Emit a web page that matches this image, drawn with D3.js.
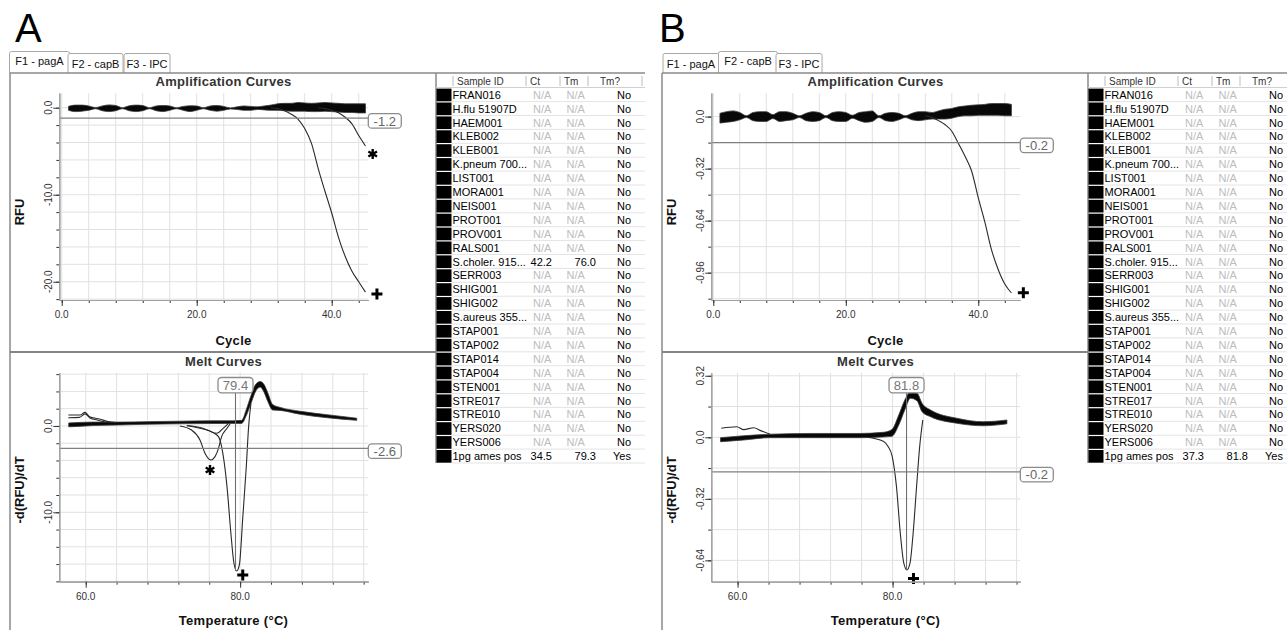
<!DOCTYPE html>
<html>
<head>
<meta charset="utf-8">
<script src="https://cdn.jsdelivr.net/npm/d3@7"></script>
<style>
body{margin:0;background:#fff;}
svg{display:block;font-family:"Liberation Sans",Arial,sans-serif;}
</style>
</head>
<body>
<svg id="fig" width="1287" height="630"></svg>
<script>
// ---- data ----
var panelLetters = ["A", "B"];
var tabNames = ["F1 - pagA", "F2 - capB", "F3 - IPC"];
var activeTab = [0, 1];

var cycles = [1,2,3,4,5,6,7,8,9,10,11,12,13,14,15,16,17,18,19,20,21,22,23,24,25,26,27,28,29,30,31,32,33,34,35,36,37,38,39,40,41,42,43,44,45];

// band of the negative samples (upper / lower edge of the bundle)
var ampBandUpperA = [0.15,0.3,0.3,0.2,0.02,0.2,0.32,0.25,0.0,0.22,
                     0.3,0.25,0.0,0.2,0.25,0.2,0.0,0.15,0.22,0.2,
                     0.0,0.2,0.25,0.15,-0.02,0.1,0.2,0.15,0.1,0.2,
                     0.3,0.45,0.5,0.5,0.6,0.55,0.5,0.55,0.6,0.55,
                     0.5,0.45,0.45,0.45,0.45];
var ampBandLowerA = [-0.3,-0.45,-0.4,-0.3,-0.12,-0.35,-0.45,-0.35,-0.12,-0.35,
                     -0.45,-0.35,-0.12,-0.35,-0.45,-0.3,-0.12,-0.3,-0.45,-0.3,
                     -0.12,-0.3,-0.4,-0.3,-0.14,-0.2,-0.3,-0.3,-0.2,-0.25,
                     -0.3,-0.3,-0.35,-0.4,-0.4,-0.4,-0.45,-0.45,-0.4,-0.45,
                     -0.5,-0.55,-0.55,-0.6,-0.6];
var ampBandUpperB = [0.02,0.03,0.035,0.025,0.005,0.025,0.03,0.03,0.012,0.03,
                     0.03,0.02,0.005,0.02,0.03,0.025,0.005,0.025,0.03,0.025,
                     0.008,0.025,0.03,0.035,0.005,0.02,0.025,0.02,0.005,0.02,
                     0.03,0.03,0.025,0.035,0.045,0.05,0.06,0.065,0.07,0.072,
                     0.075,0.08,0.08,0.08,0.075];
var ampBandLowerB = [-0.04,-0.035,-0.03,-0.02,-0.006,-0.025,-0.03,-0.03,-0.012,-0.03,
                     -0.025,-0.02,-0.006,-0.025,-0.03,-0.025,-0.006,-0.025,-0.03,-0.03,
                     -0.01,-0.025,-0.035,-0.03,-0.006,-0.025,-0.03,-0.02,-0.006,-0.02,
                     -0.025,-0.02,-0.015,-0.015,-0.015,-0.01,0.0,0.005,0.005,0.008,
                     0.008,0.008,0.008,0.005,0.005];

// amplifying samples
var ampPosCyclesA = [31,32,33,34,35,36,37,38,39,40,41,42,43,44,45];
var ampPosValuesA = [0.0,-0.1,-0.35,-0.75,-1.3,-2.4,-4.1,-7.0,-9.6,-12.1,-14.9,-17.1,-18.8,-20.0,-21.2];
var ampStarCyclesA = [38,39,40,41,42,43,44,45];
var ampStarValuesA = [0.0,-0.1,-0.3,-0.58,-1.1,-1.85,-3.2,-4.4];
var ampPosCyclesB = [32,33,34,35,36,37,38,39,40,41,42,43,44,45];
var ampPosValuesB = [0.005,-0.005,-0.025,-0.05,-0.09,-0.165,-0.244,-0.336,-0.5,-0.65,-0.82,-0.94,-1.03,-1.085];

// melt curves, panel A
var meltBandTempsA = [57.8,59,61,64.4,68,72,76,79,80.2,80.8,81.4,82.0,82.6,83.1,83.6,84.2,85.2,87.8,91.3,95.1];
var meltBandUpperA = [0.35,0.4,0.45,0.45,0.5,0.55,0.6,0.6,0.65,1.9,3.5,4.8,5.15,4.8,3.8,2.5,2.15,1.7,1.3,0.9];
var meltBandLowerA = [-0.1,-0.05,0.05,0.12,0.2,0.25,0.28,0.3,0.3,1.2,2.6,4.0,4.5,3.9,2.8,1.85,1.8,1.35,0.95,0.65];
var meltPosTempsA = [73.1,75.2,76.5,77.2,77.6,78.3,78.8,79.2,79.55,79.9,80.35,80.8,81.1,81.4];
var meltPosValuesA = [0.05,-0.27,-0.77,-1.24,-2.4,-7.03,-12.4,-15.9,-16.8,-16.1,-10.5,-4.7,-0.08,2.6];
var meltStarTempsA = [72.2,73.7,74.8,75.45,76.2,76.75,77.2,77.6,78.3,78.7];
var meltStarValuesA = [0.0,-0.46,-1.62,-3.17,-3.94,-3.55,-2.59,-1.24,-0.27,0.23];
var meltDipTempsA = [73.1,75.7,77.0,77.8,78.5];
var meltDipValuesA = [0.03,-0.46,-0.85,-0.27,0.31];
var meltHighTempsA = [57.75,59.3,59.9,60.5,61.8,62.9,64.0];
var meltHighValuesA = [1.27,1.27,1.58,1.08,0.81,0.5,0.4];
var meltHigh2TempsA = [57.75,59.2,59.9,60.6,61.5,62.5];
var meltHigh2ValuesA = [0.96,1.0,1.4,0.9,0.7,0.45];

// melt curves, panel B
var meltBandTempsB = [57.8,60.8,64.2,69.4,75.8,78.8,79.9,80.8,81.65,82.3,83.15,83.8,84.9,88.3,91.7,94.75];
var meltBandUpperB = [-0.002,0.008,0.016,0.02,0.02,0.026,0.04,0.116,0.2,0.237,0.23,0.177,0.142,0.099,0.081,0.09];
var meltBandLowerB = [-0.023,-0.014,-0.002,-0.002,-0.002,0.002,0.005,0.064,0.15,0.203,0.19,0.133,0.107,0.073,0.06,0.07];
var meltPosTempsB = [76.7,78.8,79.4,79.95,80.5,81.0,81.45,81.85,82.25,82.65,83.1,83.5,83.9];
var meltPosValuesB = [0.0,-0.021,-0.047,-0.099,-0.255,-0.5,-0.655,-0.69,-0.655,-0.5,-0.255,-0.047,0.09];
var meltHighTempsB = [57.9,59.9,60.8,62.1,62.9,64.2];
var meltHighValuesB = [0.047,0.055,0.04,0.05,0.036,0.016];

// thresholds and Tm calls
var ampThreshold = [-1.2, -0.16];
var ampThresholdLabel = ["-1.2", "-0.2"];
var meltThreshold = [-2.6, -0.18];
var meltThresholdLabel = ["-2.6", "-0.2"];
var meltTm = [79.4, 81.8];
var meltTmLabel = ["79.4", "81.8"];

// markers beside the curves: [x, y, kind]
var ampMarksA = [[46.07, -5.32, "*"], [46.7, -21.4, "+"]];
var ampMarksB = [[46.8, -1.083, "+"]];
var meltMarksA = [[76.1, -5.1, "*"], [80.34, -17.27, "+"]];
var meltMarksB = [[82.7, -0.734, "+"]];

// axes
var ampXDomain = [[-0.36, 45.42], [-0.30, 46.34]];
var ampYDomain = [[1.69, -22.1], [0.145, -1.128]];
var meltXDomain = [[56.58, 96.6], [56.61, 96.48]];
var meltYDomain = [[6.17, -18.04], [0.336, -0.751]];

var ampXMinor = [0,4,8,12,16,20,24,28,32,36,40,44];
var ampXMajor = [0,20,40];
var ampXLabels = ["0.0","20.0","40.0"];
var ampYMinorA = [0,-2,-4,-6,-8,-10,-12,-14,-16,-18,-20,-22];
var ampYMajorA = [0,-10,-20];
var ampYLabelsA = ["0.0","-10.0","-20.0"];
var ampYMinorB = [0,-0.16,-0.32,-0.48,-0.64,-0.8,-0.96,-1.12];
var ampYMajorB = [0,-0.32,-0.64,-0.96];
var ampYLabelsB = ["0.0","-0.32","-0.64","-0.96"];
var meltXMinor = [60,64,68,72,76,80,84,88,92,96];
var meltXMajor = [60,80];
var meltXLabels = ["60.0","80.0"];
var meltYMinorA = [6,4,2,0,-2,-4,-6,-8,-10,-12,-14,-16,-18];
var meltYMajorA = [0,-10];
var meltYLabelsA = ["0.0","-10.0"];
var meltYMinorB = [0.32,0.16,0,-0.16,-0.32,-0.48,-0.64];
var meltYMajorB = [0.32,0,-0.32,-0.64];
var meltYLabelsB = ["0.32","0.0","-0.32","-0.64"];

// well table
var sampleIds = ["FRAN016","H.flu 51907D","HAEM001","KLEB002","KLEB001","K.pneum 700...","LIST001",
  "MORA001","NEIS001","PROT001","PROV001","RALS001","S.choler. 915...","SERR003","SHIG001","SHIG002",
  "S.aureus 355...","STAP001","STAP002","STAP014","STAP004","STEN001","STRE017","STRE010","YERS020",
  "YERS006","1pg ames pos"];
var ctA = [null,null,null,null,null,null,null,null,null,null,null,null,"42.2",
           null,null,null,null,null,null,null,null,null,null,null,null,null,"34.5"];
var tmA = [null,null,null,null,null,null,null,null,null,null,null,null,"76.0",
           null,null,null,null,null,null,null,null,null,null,null,null,null,"79.3"];
var ctB = [null,null,null,null,null,null,null,null,null,null,null,null,null,
           null,null,null,null,null,null,null,null,null,null,null,null,null,"37.3"];
var tmB = [null,null,null,null,null,null,null,null,null,null,null,null,null,
           null,null,null,null,null,null,null,null,null,null,null,null,null,"81.8"];
var tmCallA = ["No","No","No","No","No","No","No","No","No","No","No","No","No",
               "No","No","No","No","No","No","No","No","No","No","No","No","No","Yes"];
var tmCallB = tmCallA;

// ---- layout ----
var svg = d3.select("#fig");
var panelX = [0, 652];
var letterX = [15, 7];
var tableRight = [645, 636];
var plotL = 59.3, plotR = 368.3;
var ampTop = 93, ampBottom = 300, meltTop = 372.7, meltBottom = 581.7;

var starSymbol = {draw: function(ctx, size){
    var r = Math.sqrt(size)/2;
    [90, 30, 150].forEach(function(deg){
        var a = deg*Math.PI/180;
        ctx.moveTo(r*Math.cos(a), -r*Math.sin(a));
        ctx.lineTo(-r*Math.cos(a), r*Math.sin(a));
    });
}};
var plusSymbol = {draw: function(ctx, size){
    var r = Math.sqrt(size)/2;
    ctx.moveTo(-r, 0); ctx.lineTo(r, 0);
    ctx.moveTo(0, -r); ctx.lineTo(0, r);
}};

function zip(xs, ys){ return xs.map(function(v, i){ return [v, ys[i]]; }); }

function drawPlot(g, cfg){
    var x = d3.scaleLinear().domain(cfg.xDomain).range([plotL, plotR]);
    var y = d3.scaleLinear().domain(cfg.yDomain).range([cfg.top, cfg.bottom]);

    g.append("g").selectAll("line").data(cfg.xMinor).join("line")
        .attr("x1", d => x(d)).attr("x2", d => x(d))
        .attr("y1", cfg.top).attr("y2", cfg.bottom)
        .attr("stroke", "#e1e1e1");
    g.append("g").selectAll("line").data(cfg.yMinor).join("line")
        .attr("x1", plotL).attr("x2", plotR)
        .attr("y1", d => y(d)).attr("y2", d => y(d))
        .attr("stroke", "#e1e1e1");

    // title and axis labels
    g.append("text").attr("x", 223.5).attr("y", cfg.top - 7)
        .attr("text-anchor", "middle").attr("font-size", 13).attr("font-weight", "bold")
        .attr("letter-spacing", 0.3).attr("fill", "#333").text(cfg.title);
    g.append("text").attr("x", 233.5).attr("y", cfg.bottom + (cfg.title == "Melt Curves" ? 43.5 : 45))
        .attr("text-anchor", "middle").attr("font-size", 13).attr("font-weight", "bold")
        .attr("letter-spacing", 0.3).attr("fill", "#111").text(cfg.xTitle);
    g.append("text").attr("transform", "translate(24," + cfg.yTitlePos + ") rotate(-90)")
        .attr("text-anchor", "middle").attr("font-size", 13).attr("font-weight", "bold")
        .attr("fill", "#111").text(cfg.yTitle);

    // bundle of negatives
    var band = cfg.bandX.map(function(v, i){ return {x: v, lo: cfg.bandLo[i], hi: cfg.bandHi[i]}; });
    g.append("path").datum(band)
        .attr("d", d3.area().x(d => x(d.x)).y0(d => y(d.lo)).y1(d => y(d.hi)).curve(d3.curveMonotoneX))
        .attr("fill", "#080808").attr("stroke", "#3a3a3a").attr("stroke-width", 0.8);

    var ln = d3.line().x(d => x(d[0])).y(d => y(d[1])).curve(d3.curveMonotoneX);
    g.append("g").selectAll("path").data(cfg.curves).join("path")
        .attr("d", ln).attr("fill", "none").attr("stroke", "#2a2a2a").attr("stroke-width", 1.1);

    // threshold
    var ty = y(cfg.threshold);
    g.append("line").attr("x1", plotL).attr("x2", plotR).attr("y1", ty).attr("y2", ty)
        .attr("stroke", "#808080").attr("stroke-width", 1.1);
    g.append("rect").attr("x", plotR).attr("y", ty - 4.5).attr("width", 33).attr("height", 14.5)
        .attr("rx", 3.5).attr("fill", "#fff").attr("stroke", "#8c8c8c").attr("stroke-width", 1.3);
    g.append("text").attr("x", plotR + 16.5).attr("y", ty + 7.5).attr("text-anchor", "middle")
        .attr("font-size", 13).attr("fill", "#666").text(cfg.thresholdLabel);

    // Tm call
    if (cfg.tm != null){
        var tx = x(cfg.tm);
        g.append("line").attr("x1", tx).attr("x2", tx).attr("y1", cfg.top + 20).attr("y2", y(cfg.tmBottom))
            .attr("stroke", "#707070").attr("stroke-width", 1.1);
        g.append("rect").attr("x", tx - 17.5).attr("y", cfg.top + 4.8).attr("width", 35).attr("height", 15.3)
            .attr("rx", 3.5).attr("fill", "#fff").attr("stroke", "#8c8c8c").attr("stroke-width", 1.3);
        g.append("text").attr("x", tx).attr("y", cfg.top + 17.3).attr("text-anchor", "middle")
            .attr("font-size", 13).attr("fill", "#777").text(cfg.tmLabel);
    }

    // markers
    g.append("g").selectAll("path").data(cfg.marks).join("path")
        .attr("transform", d => "translate(" + x(d[0]) + "," + y(d[1]) + ")")
        .attr("d", d => d3.symbol(d[2] == "*" ? starSymbol : plusSymbol, d[2] == "*" ? 100 : 121)())
        .attr("fill", "none").attr("stroke", "#000").attr("stroke-width", d => d[2] == "*" ? 2.4 : 3);

    // axes
    var xa = g.append("g").attr("transform", "translate(0," + cfg.bottom + ")");
    xa.append("g").call(d3.axisBottom(x).tickValues(cfg.xMinor).tickSize(3).tickSizeOuter(0).tickFormat(""));
    xa.append("g").call(d3.axisBottom(x).tickValues(cfg.xMajor).tickSize(6).tickSizeOuter(0).tickFormat(""));
    var ya = g.append("g").attr("transform", "translate(" + plotL + ",0)");
    ya.append("g").call(d3.axisLeft(y).tickValues(cfg.yMinor).tickSize(3).tickSizeOuter(0).tickFormat(""));
    ya.append("g").call(d3.axisLeft(y).tickValues(cfg.yMajor).tickSize(6).tickSizeOuter(0).tickFormat(""));
    g.selectAll(".domain").attr("stroke", "#a0a0a0").attr("stroke-width", 1.2);
    g.selectAll(".tick line").attr("stroke", "#333");

    g.append("g").selectAll("text").data(cfg.xMajor).join("text")
        .attr("x", d => x(d)).attr("y", cfg.bottom + 18).attr("text-anchor", "middle")
        .attr("font-size", 10).attr("fill", "#333").text((d, i) => cfg.xLabels[i]);
    g.append("g").selectAll("text").data(cfg.yMajor).join("text")
        .attr("transform", d => "translate(" + (plotL - 7.3) + "," + y(d) + ") rotate(-90)")
        .attr("text-anchor", "middle").attr("font-size", 10).attr("fill", "#333")
        .text((d, i) => cfg.yLabels[i]);
}

function drawTable(g, p){
    var rowH = 13.9, top = 88, right = tableRight[p];
    var ct = p == 0 ? ctA : ctB, tm = p == 0 ? tmA : tmB, call = p == 0 ? tmCallA : tmCallB;
    g.append("line").attr("x1", 436).attr("x2", right).attr("y1", 87.5).attr("y2", 87.5)
        .attr("stroke", "#d0d0d0");
    [453, 526, 560, 588, 642].forEach(function(sx){
        if (sx < right) g.append("line").attr("x1", sx).attr("x2", sx).attr("y1", 76).attr("y2", 86)
            .attr("stroke", "#bbb");
    });
    var heads = [["Sample ID", 457], ["Ct", 530], ["Tm", 564], ["Tm?", 600]];
    heads.forEach(function(h){
        g.append("text").attr("x", h[1]).attr("y", 84.5).attr("font-size", 10).attr("fill", "#333").text(h[0]);
    });
    var rows = g.append("g").selectAll("g").data(sampleIds).join("g")
        .attr("transform", (d, i) => "translate(0," + (top + i*rowH) + ")");
    rows.append("rect").attr("x", 436.5).attr("y", 0.6).attr("width", 15).attr("height", rowH - 1.2).attr("fill", "#000");
    rows.append("line").attr("x1", 452).attr("x2", right).attr("y1", rowH - 0.3).attr("y2", rowH - 0.3)
        .attr("stroke", "#e4e4e4");
    rows.append("text").attr("x", 452.5).attr("y", 10.8).attr("font-size", 11).attr("fill", "#000").text(d => d);
    rows.append("text").attr("x", (d, i) => ct[i] ? 552 : 533).attr("y", 10.8)
        .attr("text-anchor", (d, i) => ct[i] ? "end" : "start").attr("font-size", 11)
        .attr("fill", (d, i) => ct[i] ? "#000" : "#bdbdbd").text((d, i) => ct[i] || "N/A");
    rows.append("text").attr("x", (d, i) => tm[i] ? 596 : 566.5).attr("y", 10.8)
        .attr("text-anchor", (d, i) => tm[i] ? "end" : "start").attr("font-size", 11)
        .attr("fill", (d, i) => tm[i] ? "#000" : "#bdbdbd").text((d, i) => tm[i] || "N/A");
    rows.append("text").attr("x", 631).attr("y", 10.8).attr("text-anchor", "end").attr("font-size", 11)
        .attr("fill", "#000").text((d, i) => call[i]);
}

function drawPanel(p){
    var g = svg.append("g").attr("transform", "translate(" + panelX[p] + ",0)");
    g.append("text").attr("x", letterX[p]).attr("y", 42).attr("font-size", 40).attr("fill", "#000").text(panelLetters[p]);

    // tabs
    var tabEdges = [11, 68, 124, 171];
    tabNames.forEach(function(name, i){
        var on = activeTab[p] == i;
        var x0 = tabEdges[i] - (on ? 1.5 : 0), x1 = tabEdges[i+1] + (on ? 1.5 : 0) - (on ? 0 : 1);
        var t = on ? 51.5 : 53.5;
        var path = d3.path();
        path.moveTo(x0, 73); path.lineTo(x0, t + 2); path.quadraticCurveTo(x0, t, x0 + 2, t);
        path.lineTo(x1 - 2, t); path.quadraticCurveTo(x1, t, x1, t + 2); path.lineTo(x1, 73);
        g.append("path").attr("d", path.toString()).attr("fill", "#fff").attr("stroke", "#a8a8a8").attr("stroke-width", 1);
        g.append("text").attr("x", (x0 + x1)/2).attr("y", on ? 65 : 67.5).attr("text-anchor", "middle")
            .attr("font-size", 11).attr("fill", "#111").text(name);
    });

    // frames
    var frame = [[10, 73, tableRight[p], 73], [10, 73, 10, 630], [436, 73, 436, 463]];
    frame.forEach(function(f){
        g.append("line").attr("x1", f[0]).attr("y1", f[1]).attr("x2", f[2]).attr("y2", f[3])
            .attr("stroke", "#8a8a8a").attr("stroke-width", 1.5);
    });
    g.append("line").attr("x1", 10).attr("y1", 352).attr("x2", 436).attr("y2", 352)
        .attr("stroke", "#858585").attr("stroke-width", 2);

    var A = p == 0;
    drawPlot(g, {
        title: "Amplification Curves", xTitle: "Cycle", yTitle: "RFU", yTitlePos: 212,
        xDomain: ampXDomain[p], yDomain: ampYDomain[p], top: ampTop, bottom: ampBottom,
        xMinor: ampXMinor, xMajor: ampXMajor, xLabels: ampXLabels,
        yMinor: A ? ampYMinorA : ampYMinorB, yMajor: A ? ampYMajorA : ampYMajorB,
        yLabels: A ? ampYLabelsA : ampYLabelsB,
        bandX: cycles, bandHi: A ? ampBandUpperA : ampBandUpperB, bandLo: A ? ampBandLowerA : ampBandLowerB,
        curves: A ? [zip(ampPosCyclesA, ampPosValuesA), zip(ampStarCyclesA, ampStarValuesA)]
                  : [zip(ampPosCyclesB, ampPosValuesB)],
        threshold: ampThreshold[p], thresholdLabel: ampThresholdLabel[p],
        tm: null, marks: A ? ampMarksA : ampMarksB
    });
    drawPlot(g, {
        title: "Melt Curves", xTitle: "Temperature (\u00b0C)", yTitle: "-d(RFU)/dT", yTitlePos: 490,
        xDomain: meltXDomain[p], yDomain: meltYDomain[p], top: meltTop, bottom: meltBottom,
        xMinor: meltXMinor, xMajor: meltXMajor, xLabels: meltXLabels,
        yMinor: A ? meltYMinorA : meltYMinorB, yMajor: A ? meltYMajorA : meltYMajorB,
        yLabels: A ? meltYLabelsA : meltYLabelsB,
        bandX: A ? meltBandTempsA : meltBandTempsB,
        bandHi: A ? meltBandUpperA : meltBandUpperB, bandLo: A ? meltBandLowerA : meltBandLowerB,
        curves: A ? [zip(meltHighTempsA, meltHighValuesA), zip(meltHigh2TempsA, meltHigh2ValuesA),
                     zip(meltDipTempsA, meltDipValuesA), zip(meltStarTempsA, meltStarValuesA),
                     zip(meltPosTempsA, meltPosValuesA)]
                  : [zip(meltHighTempsB, meltHighValuesB), zip(meltPosTempsB, meltPosValuesB)],
        threshold: meltThreshold[p], thresholdLabel: meltThresholdLabel[p],
        tm: meltTm[p], tmLabel: meltTmLabel[p],
        tmBottom: d3.min(A ? meltPosValuesA : meltPosValuesB),
        marks: A ? meltMarksA : meltMarksB
    });

    drawTable(g, p);
}

drawPanel(0);
drawPanel(1);
</script>
</body>
</html>
